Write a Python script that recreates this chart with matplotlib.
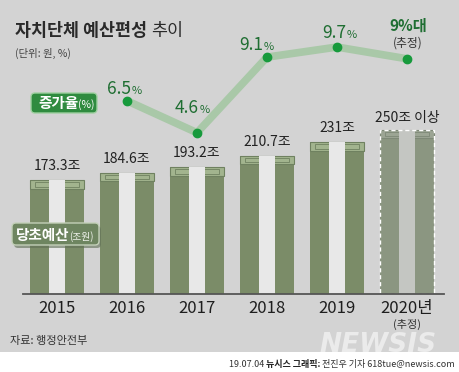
import matplotlib
matplotlib.use("Agg")
import matplotlib.pyplot as plt
from matplotlib import font_manager
from matplotlib.patches import FancyBboxPatch, Rectangle

installed = {f.name for f in font_manager.fontManager.ttflist}
fams = ['Noto Sans CJK KR', 'DejaVu Sans']
if 'Liberation Sans Narrow' in installed:
    fams = ['Liberation Sans Narrow'] + fams
plt.rcParams['font.family'] = fams
KR = ['Noto Sans CJK KR', 'DejaVu Sans']

# --- data ---
years = ["2015", "2016", "2017", "2018", "2019", "2020년"]
budget = [173.3, 184.6, 193.2, 210.7, 231.0, 250.0]
budget_labels = ["173.3", "184.6", "193.2", "210.7", "231", "250"]
rate_idx = [1, 2, 3, 4, 5]
rate = [6.5, 4.6, 9.1, 9.7, 9.0]
rate_labels = ["6.5", "4.6", "9.1", "9.7", "9"]

W, H = 460, 372
BG = "#d3d3d3"
GREEN = "#7b8c68"
GREEN_TOP = "#a2b48e"
STRIPE = "#e8e8e8"
DKGREEN = "#1f6e32"

fig = plt.figure(figsize=(W / 100, H / 100), dpi=100)
fig.patch.set_facecolor(BG)
renderer = fig.canvas.get_renderer()


def px(x0, y0, w, h):
    # pixel box (from top-left) -> figure fraction
    return [x0 / W, 1 - (y0 + h) / H, w / W, h / H]


# --- bars ---
ax = fig.add_axes(px(22, 294 - 197.1, 420, 197.1), zorder=1)
ax.set_xlim(-0.5, 5.5)
ax.set_ylim(0, 300)
ax.axis("off")

top_h = 13
for i, v in enumerate(budget):
    est = i == len(budget) - 1
    body = "#8b9681" if est else GREEN
    stripe = "#c4c6c2" if est else STRIPE
    topc = "#9ca594" if est else GREEN_TOP
    edge = "#7e8977" if est else "#6f8160"
    ax.bar(i, v, width=0.76, color=body, zorder=1)
    ax.bar(i, top_h, bottom=v - top_h, width=0.76, color=topc,
           edgecolor=edge, linewidth=0.8, zorder=2)
    ax.bar(i, top_h - 6, bottom=v - top_h + 3, width=0.64, color="none",
           edgecolor=edge, linewidth=0.6, zorder=2)
    ax.bar(i, v, width=0.24, color=stripe, zorder=3)
    if est:
        ax.bar(i, v, width=0.76, color="none", edgecolor="white",
               linewidth=1.0, linestyle=(0, (3, 2)), zorder=4)
        ax.annotate(budget_labels[i] + "조 이상", (i, v), xytext=(0, 8),
                    textcoords="offset pixels", ha="center", va="baseline",
                    fontsize=10, color="#222222")
    else:
        ax.annotate(budget_labels[i] + "조", (i, v), xytext=(0, 10),
                    textcoords="offset pixels", ha="center", va="baseline",
                    fontsize=10, color="#222222")

ax.plot([-0.49, 5.53], [0, 0], color="#555555", lw=1.3, clip_on=False, zorder=5)

for i, y in enumerate(years):
    ax.annotate(y, (i, 0), xytext=(0, -19), textcoords="offset pixels",
                ha="center", va="baseline", fontsize=12, color="#1e1e1e")
ax.annotate("(추정)", (5, 0), xytext=(0, -34), textcoords="offset pixels",
            ha="center", va="baseline", fontsize=8, color="#333333")

# --- growth line ---
ax2 = fig.add_axes(px(22, 210 - 201.6, 420, 201.6), zorder=2)
ax2.set_xlim(-0.5, 5.5)
ax2.set_ylim(0, 12)
ax2.axis("off")
ax2.plot(rate_idx, rate, color="#a9c8a8", lw=5.5, solid_capstyle="round",
         solid_joinstyle="round", zorder=1)
ax2.plot(rate_idx, rate, "o", color="#179a3c", ms=6, zorder=2)

offs = [(4, 7), (2, 20), (-4, 7), (9, 9)]
for (i, v, lab), (dx, dy) in zip(zip(rate_idx[:4], rate[:4], rate_labels[:4]), offs):
    ax2.annotate(lab, (i, v), xytext=(dx, dy), textcoords="offset pixels",
                 ha="right", va="baseline", fontsize=12.5, color=DKGREEN)
    ax2.annotate("%", (i, v), xytext=(dx + 1, dy), textcoords="offset pixels",
                 ha="left", va="baseline", fontsize=8, color=DKGREEN)
ax2.annotate(rate_labels[4] + "%대", (rate_idx[4], rate[4]), xytext=(1, 28),
             textcoords="offset pixels", ha="center", va="baseline",
             fontsize=11, color=DKGREEN, fontweight="bold")
ax2.annotate("(추정)", (rate_idx[4], rate[4]), xytext=(1, 12),
             textcoords="offset pixels", ha="center", va="baseline",
             fontsize=8.5, color="#333333")

# --- overlay: titles, badges, footer ---
ov = fig.add_axes([0, 0, 1, 1], zorder=3)
ov.set_xlim(0, W)
ov.set_ylim(H, 0)
ov.axis("off")
ov.patch.set_alpha(0)


def chain(x, y, pieces, right=False):
    # pieces: list of (text, kwargs); laid out left to right, pixel units
    arts = [ov.text(x, y, t, va="baseline", **kw) for t, kw in pieces]
    widths = [a.get_window_extent(renderer).width for a in arts]
    cur = x - sum(widths) if right else x
    for a, w in zip(arts, widths):
        a.set_x(cur)
        cur += w
    return arts


chain(15, 36, [("자치단체 예산편성 ", dict(fontsize=12.5, fontweight="bold",
                                      color="#2a2a2a", family=KR)),
               ("추이", dict(fontsize=12.5, color="#2a2a2a", family=KR))])
ov.text(15, 57, "(단위: 원, %)", fontsize=7.5, color="#444444", va="baseline",
        family=KR)

# badge: growth rate
ov.add_patch(FancyBboxPatch((31, 93), 66, 20, boxstyle="round,pad=0,rounding_size=4",
                            facecolor="#2f8b3f", edgecolor="#9fd0a0", lw=1.0))
chain(38, 108, [("증가율", dict(fontsize=10.5, fontweight="bold", color="white",
                               family=KR)),
                ("(%)", dict(fontsize=7.5, color="white", family=KR))])

# badge: budget
ov.add_patch(FancyBboxPatch((14, 226), 87, 22, boxstyle="round,pad=0,rounding_size=4",
                            facecolor="#5f6e55", edgecolor="none", alpha=0.6))
ov.add_patch(FancyBboxPatch((12, 223), 87, 22, boxstyle="round,pad=0,rounding_size=4",
                            facecolor="#6e8560", edgecolor="#c3d0b8", lw=1.0))
chain(16, 240, [("당초예산", dict(fontsize=10.5, fontweight="bold", color="white",
                                 family=KR)),
                ("(조원)", dict(fontsize=7, color="#eef2ea", family=KR))])

ov.text(10, 344, "자료: 행정안전부", fontsize=8, color="#333333", va="baseline",
        family=KR)

ov.text(437, 352, "NEWSIS", fontsize=19, fontweight="bold", style="italic",
        color="white", alpha=0.55, ha="right", va="baseline",
        family=["DejaVu Sans"])

ov.add_patch(Rectangle((0, 352), W, H - 352, facecolor="white", edgecolor="none"))
chain(455, 367, [("19.07.04 ", dict(fontsize=6.5, color="#333333", family=KR)),
                 ("뉴시스 그래픽:", dict(fontsize=6.5, fontweight="bold",
                                     color="#222222", family=KR)),
                 (" 전진우 기자 618tue@newsis.com", dict(fontsize=6.5,
                                                    color="#333333", family=KR))],
      right=True)

fig.savefig("out.png", dpi=100, facecolor=fig.get_facecolor())
